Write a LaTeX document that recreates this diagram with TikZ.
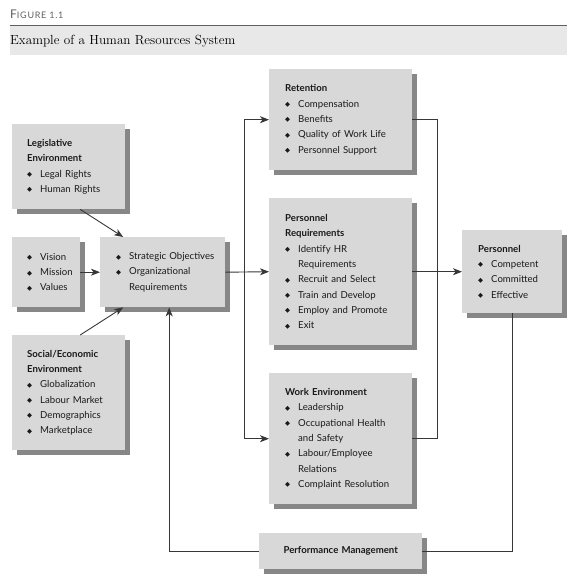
\documentclass[tikz,border=0pt]{standalone}
\usepackage{fontspec}
\setmainfont{Lato}
\newfontfamily\ttlfont{Latin Modern Roman}
\newfontfamily\symfont{DejaVu Sans}
\usetikzlibrary{shadows,arrows.meta,calc}
\definecolor{boxgray}{RGB}{216,216,216}
\definecolor{shadegray}{RGB}{135,135,135}
\definecolor{bandgray}{RGB}{232,232,232}
\definecolor{linegray}{RGB}{55,55,55}
\definecolor{headgray}{RGB}{95,95,95}
\hbadness=10000 \hfuzz=200pt
\newcommand\bul{{\symfont\fontsize{6.5}{6.5}\selectfont ◆}}
\newcommand\itm[1]{\mbox{\makebox[13pt][l]{\raisebox{0.5pt}{\bul}}#1}}
\newcommand\cnt[1]{\mbox{\hspace*{13pt}#1}}
\tikzset{
  box/.style={fill=boxgray, anchor=north west, inner xsep=15pt, inner ysep=0pt,
    align=left, font=\fontsize{9.6}{15.3}\selectfont, text=black!90,
    drop shadow={shadow xshift=5pt, shadow yshift=-5pt, fill=shadegray, opacity=1}},
  conn/.style={draw=linegray, line width=0.9pt},
  arr/.style={conn, -{Stealth[length=9pt,width=7pt,inset=2.5pt]}},
}
\begin{document}
\begin{tikzpicture}[x=1pt,y=-1pt]
\useasboundingbox (0,0) rectangle (577,581);
% header
\node[anchor=base west, inner sep=0, text=headgray] (fig) at (10,18.5)
  {{\fontsize{12}{12}\selectfont F}{\fontsize{9}{9}\selectfont\addfontfeatures{LetterSpace=8} IGURE 1.1}};
\fill[bandgray] (10,26) rectangle (567,55);
\draw[headgray, line width=1pt] (10,25.5) -- (567,25.5);
\node[anchor=base west, inner sep=0, font=\ttlfont\fontsize{13.2}{13.2}\selectfont] (ttl) at (10,44.5)
  {Example of a Human Resources System};
% boxes
\node[box, text width=83pt, minimum height=85pt] (leg) at (12,124)
  {\textbf{Legislative}\\\textbf{Environment}\\\itm{Legal Rights}\\\itm{Human Rights}};
\node[box, text width=38pt, minimum height=70pt] (vis) at (12,237)
  {\itm{Vision}\\\itm{Mission}\\\itm{Values}};
\node[box, text width=93pt, minimum height=70pt, inner xsep=16pt] (str) at (100,237)
  {\itm{Strategic Objectives}\\\itm{Organizational}\\\cnt{Requirements}};
\node[box, text width=83pt, minimum height=115pt] (soc) at (12,335)
  {\textbf{Social/Economic}\\\textbf{Environment}\\\itm{Globalization}\\\itm{Labour Market}\\\itm{Demographics}\\\itm{Marketplace}};
\node[box, text width=111pt, minimum height=101pt, inner xsep=16pt] (ret) at (269,69)
  {\textbf{Retention}\\\itm{Compensation}\\\itm{Benefits}\\\itm{Quality of Work Life}\\\itm{Personnel Support}};
\node[box, text width=111pt, minimum height=147pt, inner xsep=16pt] (preq) at (269,198)
  {\textbf{Personnel}\\\textbf{Requirements}\\\itm{Identify HR}\\\cnt{Requirements}\\\itm{Recruit and Select}\\\itm{Train and Develop}\\\itm{Employ and Promote}\\\itm{Exit}};
\node[box, text width=111pt, minimum height=131pt, inner xsep=16pt] (wenv) at (269,373)
  {\textbf{Work Environment}\\\itm{Leadership}\\\itm{Occupational Health}\\\cnt{and Safety}\\\itm{Labour/Employee}\\\cnt{Relations}\\\itm{Complaint Resolution}};
\node[box, text width=68pt, minimum height=83pt, inner xsep=16pt] (pers) at (462,230)
  {\textbf{Personnel}\\\itm{Competent}\\\itm{Committed}\\\itm{Effective}};
\node[box, text width=163pt, minimum height=36pt, inner xsep=0pt, align=center] (pm) at (259,533)
  {\textbf{Performance Management}};
% connectors
\draw[arr] ([xshift=11.5pt]leg.south) -- ([xshift=-39.5pt]str.north);
\draw[arr] (vis.east) -- (str.west);
\draw[arr] ([xshift=11.5pt]soc.north) -- ([xshift=-39.5pt]str.south);
\coordinate (tr) at ([xshift=19pt]str.east);
\draw[arr] (str.east) -- (preq.west);
\draw[arr] (tr) |- (ret.west);
\draw[arr] (tr) |- (wenv.west);
\coordinate (rt) at ([xshift=25pt]preq.east);
\draw[conn] (ret.east) -| (rt) |- (wenv.east);
\draw[arr] (preq.east) -- (pers.west);
\draw[conn] (pers.south) |- (pm.east);
\draw[arr] (pm.west) -| ([xshift=6.5pt]str.south);
\end{tikzpicture}
\end{document}
